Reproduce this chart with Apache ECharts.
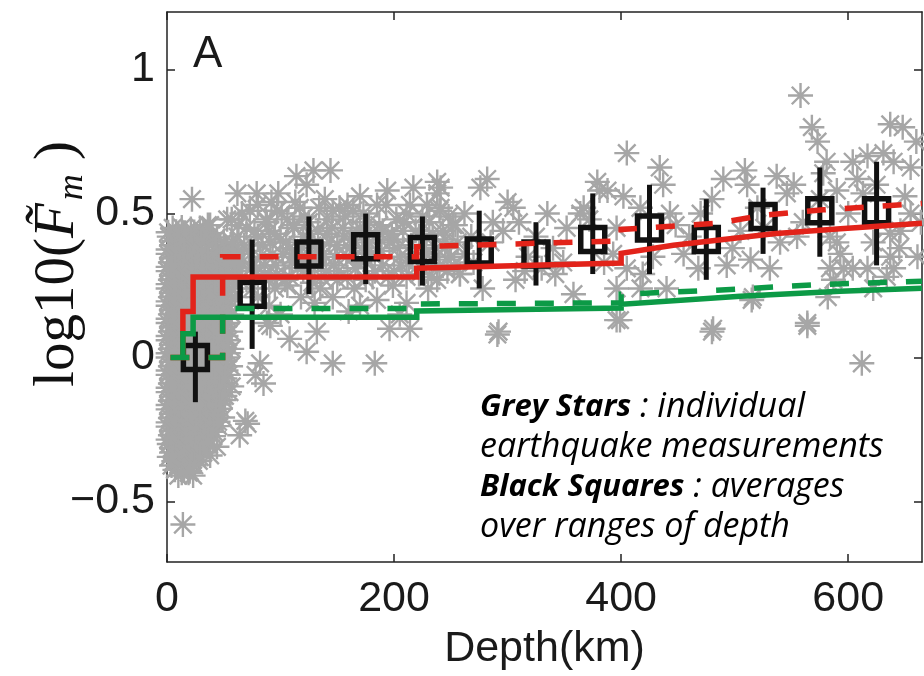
<!DOCTYPE html>
<html>
<head>
<meta charset="utf-8">
<script src="https://cdn.jsdelivr.net/npm/echarts@6/dist/echarts.min.js"></script>
<style>
  html, body { margin: 0; padding: 0; background: #ffffff; }
  #chart { width: 924px; height: 676px; }
</style>
</head>
<body>
<div id="chart"></div>
<script>
// Individual earthquake measurements: [depth (km), log10 value]
const shallowStars = [
  [5,0.45],[13,0.452],[21,0.446],[29,0.45],
  [2,0.42],[9,0.423],[17,0.418],[25,0.421],[34,0.42],[44,0.417],
  [4,0.39],[11,0.392],[19,0.388],[28,0.391],[37,0.39],[47,0.386],[57,0.39],
  [1,0.36],[7,0.362],[14,0.358],[22,0.361],[31,0.36],[41,0.357],[51,0.362],[63,0.36],
  [3,0.33],[10,0.332],[17,0.328],[26,0.331],[35,0.33],[45,0.327],[55,0.332],
  [1,0.30],[6,0.302],[13,0.298],[21,0.301],[30,0.30],[39,0.297],[49,0.302],[59,0.30],
  [3,0.27],[9,0.272],[16,0.268],[24,0.271],[33,0.27],[43,0.267],[53,0.272],[64,0.27],
  [1,0.24],[6,0.242],[12,0.238],[20,0.241],[28,0.24],[37,0.237],[47,0.242],[57,0.24],
  [3,0.21],[9,0.212],[15,0.208],[23,0.211],[32,0.21],[41,0.207],[51,0.212],[60,0.21],
  [1,0.18],[6,0.182],[12,0.178],[19,0.181],[27,0.18],[36,0.177],[45,0.182],[54,0.18],
  [3,0.15],[9,0.152],[15,0.148],[23,0.151],[31,0.15],[40,0.147],[49,0.152],[57,0.15],
  [1,0.12],[6,0.122],[12,0.118],[19,0.121],[27,0.12],[35,0.117],[44,0.122],[53,0.12],
  [3,0.09],[9,0.092],[15,0.088],[22,0.091],[30,0.09],[39,0.087],[48,0.092],[56,0.09],
  [1,0.06],[6,0.062],[12,0.058],[19,0.061],[27,0.06],[36,0.057],[45,0.062],[54,0.06],
  [3,0.03],[9,0.032],[16,0.028],[23,0.031],[31,0.03],[40,0.027],[49,0.032],[57,0.03],
  [1,0.0],[6,0.002],[12,-0.002],[19,0.001],[27,0.0],[36,-0.003],[45,0.002],[53,0.0],
  [3,-0.03],[9,-0.028],[16,-0.032],[23,-0.029],[31,-0.03],[40,-0.033],[48,-0.028],[56,-0.03],
  [1,-0.06],[6,-0.058],[12,-0.062],[20,-0.059],[28,-0.06],[37,-0.063],[46,-0.058],[54,-0.06],
  [3,-0.09],[9,-0.088],[16,-0.092],[24,-0.089],[32,-0.09],[41,-0.093],[50,-0.088],
  [1,-0.12],[6,-0.118],[13,-0.122],[21,-0.119],[29,-0.12],[38,-0.123],[47,-0.118],[55,-0.12],
  [3,-0.15],[9,-0.148],[16,-0.152],[24,-0.149],[33,-0.15],[42,-0.153],[50,-0.148],
  [1,-0.18],[6,-0.178],[13,-0.182],[21,-0.179],[30,-0.18],[39,-0.183],[47,-0.178],
  [3,-0.21],[9,-0.208],[16,-0.212],[25,-0.209],[34,-0.21],[43,-0.213],[49,-0.208],
  [1,-0.24],[6,-0.238],[13,-0.242],[21,-0.239],[30,-0.24],[39,-0.243],[45,-0.238],
  [3,-0.27],[9,-0.268],[16,-0.272],[24,-0.269],[33,-0.27],[41,-0.273],
  [2,-0.30],[7,-0.298],[13,-0.302],[21,-0.299],[29,-0.30],[37,-0.303],
  [4,-0.33],[10,-0.328],[17,-0.332],[25,-0.329],[32,-0.33],
  [6,-0.36],[13,-0.358],[20,-0.362],[28,-0.359],
  [7,-0.39],[15,-0.392],[23,-0.41],
  [10,-0.41],[19,-0.40],
  [14,-0.58],[44,-0.31],[38,-0.34],[69,-0.22],[64,-0.27],[57,-0.10],[71,-0.23],
  [22,0.55],[62,0.57],[38,0.46],[57,0.48],[53,0.48],[36,0.46]
];

const shallowStars2 = [
  [1,0.435],[8,0.437],[16,0.433],[24,0.436],[32,0.434],[40,0.432],
  [6,0.405],[13,0.407],[21,0.403],[30,0.406],[40,0.404],[50,0.402],
  [1,0.375],[7,0.377],[15,0.373],[24,0.376],[33,0.374],[43,0.372],[53,0.377],[60,0.375],
  [4,0.345],[11,0.347],[18,0.343],[27,0.346],[36,0.344],[46,0.342],[57,0.347],
  [1,0.315],[7,0.317],[14,0.313],[22,0.316],[31,0.314],[40,0.312],[50,0.317],[60,0.315],
  [4,0.285],[10,0.287],[17,0.283],[25,0.286],[35,0.284],[44,0.282],[54,0.287],
  [1,0.255],[6,0.257],[13,0.253],[20,0.256],[29,0.254],[38,0.252],[48,0.257],[60,0.255],
  [4,0.225],[10,0.227],[16,0.223],[24,0.226],[33,0.224],[42,0.222],[52,0.227],
  [1,0.195],[6,0.197],[12,0.193],[19,0.196],[28,0.194],[37,0.192],[46,0.197],[56,0.195],
  [4,0.165],[10,0.167],[16,0.163],[23,0.166],[32,0.164],[41,0.162],[50,0.167],
  [1,0.135],[6,0.137],[12,0.133],[20,0.136],[28,0.134],[36,0.132],[45,0.137],[54,0.135],
  [4,0.105],[10,0.107],[16,0.103],[24,0.106],[32,0.104],[40,0.102],[49,0.107],
  [1,0.075],[6,0.077],[12,0.073],[19,0.076],[26,0.074],[35,0.072],[44,0.077],[52,0.075],
  [4,0.045],[10,0.047],[16,0.043],[24,0.046],[32,0.044],[41,0.042],[50,0.047],
  [1,0.015],[6,0.017],[13,0.013],[20,0.016],[27,0.014],[36,0.012],[45,0.017],[54,0.015],
  [4,-0.015],[10,-0.013],[16,-0.017],[24,-0.014],[32,-0.016],[41,-0.018],[50,-0.013],
  [1,-0.045],[6,-0.043],[13,-0.047],[20,-0.044],[28,-0.046],[36,-0.048],[44,-0.043],[52,-0.045],
  [4,-0.075],[10,-0.073],[17,-0.077],[25,-0.074],[33,-0.076],[42,-0.078],[51,-0.073],
  [1,-0.105],[6,-0.103],[13,-0.107],[20,-0.104],[28,-0.106],[37,-0.108],[46,-0.103],
  [4,-0.135],[10,-0.133],[17,-0.137],[25,-0.134],[34,-0.136],[43,-0.138],[51,-0.133],
  [1,-0.165],[6,-0.163],[13,-0.167],[20,-0.164],[28,-0.166],[37,-0.168],[46,-0.163],
  [4,-0.195],[10,-0.193],[17,-0.197],[25,-0.194],[34,-0.196],[43,-0.198],
  [1,-0.225],[6,-0.223],[13,-0.227],[20,-0.224],[29,-0.226],[38,-0.228],[45,-0.223],
  [4,-0.255],[10,-0.253],[17,-0.257],[25,-0.254],[34,-0.256],[41,-0.258],
  [1,-0.285],[6,-0.283],[13,-0.287],[20,-0.284],[28,-0.286],[36,-0.288],
  [4,-0.315],[10,-0.313],[17,-0.317],[25,-0.314],[32,-0.316],
  [2,-0.345],[8,-0.343],[15,-0.347],[22,-0.344],[29,-0.346],
  [4,-0.375],[10,-0.373],[17,-0.377],[24,-0.374],
  [13,-0.40],[20,-0.395]
];

const midStars = [
  [79,0.57],[98,0.57],[170,0.56],[194,0.58],[217,0.59],[238,0.61],[114,0.63],[129,0.65],[144,0.65],[123,0.60],[276,0.59],
  [92,0.54],[113,0.54],[139,0.55],[159,0.53],[185,0.53],[229,0.53],[214,0.53],[238,0.57],
  [73,0.51],[97,0.51],[117,0.52],[146,0.51],[152,0.52],[164,0.51],[211,0.50],[240,0.51],
  [87,0.48],[106,0.48],[125,0.47],[141,0.48],[178,0.47],[202,0.48],[225,0.49],[252,0.46],
  [70,0.45],[90,0.44],[112,0.45],[133,0.44],[155,0.45],[170,0.45],[190,0.44],[208,0.44],[234,0.43],
  [62,0.42],[80,0.42],[100,0.41],[120,0.42],[141,0.43],[162,0.41],[185,0.42],[200,0.41],[222,0.42],[245,0.41],
  [68,0.39],[91,0.40],[108,0.38],[128,0.39],[150,0.39],[172,0.38],[196,0.40],[215,0.39],[237,0.38],
  [60,0.36],[82,0.35],[102,0.36],[118,0.35],[138,0.36],[158,0.35],[180,0.36],[205,0.35],[228,0.36],[250,0.35],
  [66,0.33],[86,0.32],[110,0.33],[130,0.33],[147,0.32],[168,0.33],[190,0.32],[213,0.33],[240,0.32],[247,0.34],
  [62,0.30],[78,0.30],[97,0.29],[120,0.30],[140,0.30],[159,0.28],[181,0.28],[200,0.30],[222,0.29],[247,0.30],
  [70,0.27],[90,0.27],[108,0.28],[128,0.26],[150,0.27],[175,0.27],[199,0.25],[211,0.28],[238,0.27],[258,0.29],
  [75,0.24],[95,0.24],[106,0.25],[135,0.24],[165,0.24],[230,0.24],
  [80,0.21],[118,0.21],[146,0.21],[185,0.20],[211,0.19],
  [90,0.18],[130,0.19],[170,0.18],
  [100,0.15],[160,0.16],[205,0.15],
  [88,0.12],[91,0.11],[132,0.09],[196,0.10],[214,0.10],
  [108,0.065],[123,0.02],[82,-0.02],[146,-0.02],[183,-0.02],[78,-0.06],[85,-0.09]
];

const midStars2 = [
  [58,0.40],[60,0.33],[63,0.46],[66,0.50],[72,0.37],[74,0.31],[77,0.44],[80,0.53],
  [84,0.39],[86,0.29],[88,0.47],[93,0.36],[95,0.43],[96,0.32],[101,0.50],[104,0.27],
  [105,0.40],[110,0.35],[111,0.46],[115,0.31],[119,0.38],[121,0.49],[126,0.43],[127,0.33],
  [132,0.37],[134,0.52],[136,0.28],[143,0.40],[145,0.45],[148,0.35],[151,0.30],[156,0.42],
  [157,0.49],[161,0.38],[166,0.31],[167,0.44],[173,0.50],[176,0.34],[178,0.40],[183,0.30],
  [187,0.46],[189,0.37],[193,0.53],[195,0.28],[198,0.43],[203,0.38],[206,0.32],[209,0.47],
  [216,0.36],[219,0.44],[224,0.31],[226,0.39],[231,0.47],[233,0.28],[236,0.35],[243,0.44],
  [245,0.38],[248,0.49],[253,0.32],[256,0.40],[262,0.36]
];

const deepStars = [
  [558,0.91],[568,0.80],[573,0.75],[637,0.81],[648,0.80],
  [405,0.71],[434,0.66],[437,0.60],[282,0.62],[300,0.54],
  [254,0.46],[241,0.59],[241,0.52],[287,0.47],[296,0.44],
  [258,0.29],[278,0.24],[307,0.27],[342,0.29],[349,0.33],[292,0.09],
  [358,0.22],[367,0.52],[379,0.61],[381,0.58],[364,0.50],[388,0.58],
  [402,0.56],[417,0.52],[396,0.45],[393,0.36],[405,0.31],[419,0.29],
  [417,0.24],[440,0.24],[443,0.50],[396,0.24],[399,0.13],[468,0.31],
  [480,0.55],[490,0.62],[493,0.32],[481,0.10],[509,0.65],[511,0.60],
  [516,0.21],[514,0.34],[531,0.31],[537,0.63],[540,0.40],[546,0.57],
  [552,0.60],[564,0.12],[581,0.68],[578,0.64],[584,0.42],[590,0.40],
  [593,0.36],[584,0.31],[596,0.31],[604,0.68],[617,0.70],[631,0.71],
  [608,0.62],[613,0.57],[640,0.68],[655,0.66],[622,0.40],[637,0.43],
  [646,0.44],[637,0.35],[640,0.31],[617,0.31],[622,0.24],[661,0.35],
  [664,0.47],[587,0.27],[604,0.31],[634,0.28],[291,0.08],[396,0.13],
  [480,0.09],[564,0.11],[612,-0.02],[515,0.20],[582,0.21],
  [268,0.42],[310,0.47],[325,0.42],[335,0.50],[352,0.45],[318,0.35],
  [330,0.31],[460,0.42],[455,0.36],[505,0.44],[520,0.52],[560,0.47],
  [575,0.55],[600,0.50],[650,0.56],[655,0.50],[660,0.75],
  [262,0.50],[270,0.33],[285,0.40],[305,0.52],[315,0.30],[340,0.38],
  [372,0.48],[385,0.33],[428,0.35],[448,0.46],[470,0.50],[498,0.38],
  [526,0.45],[555,0.42],[590,0.58],[625,0.60],[645,0.38]
];

// Depth-bin averages with spread
const binDepth = [25, 75, 125, 175, 225, 275, 325, 375, 425, 475, 525, 575, 625];
const binMean  = [0.0, 0.22, 0.36, 0.385, 0.375, 0.37, 0.36, 0.41, 0.45, 0.41, 0.49, 0.51, 0.51];
const binLow   = [-0.155, 0.03, 0.22, 0.255, 0.25, 0.24, 0.25, 0.29, 0.29, 0.27, 0.36, 0.35, 0.32];
const binHigh  = [0.09, 0.41, 0.49, 0.50, 0.49, 0.51, 0.47, 0.57, 0.60, 0.55, 0.59, 0.66, 0.68];

// Model curves
const redSolid = [[14,0],[14,0.16],[23,0.16],[23,0.28],[220,0.28],[220,0.31],[400,0.328],[400,0.362],[446,0.39],[534,0.43],[593,0.447],[665,0.466]];
const redDashed = [[3,0],[49,0],[49,0.35],[220,0.35],[220,0.385],[400,0.405],[400,0.445],[484,0.466],[525,0.494],[578,0.513],[665,0.535]];
const greenSolid = [[14,0],[14,0.083],[23,0.083],[23,0.14],[220,0.14],[220,0.162],[400,0.172],[400,0.185],[505,0.213],[593,0.23],[665,0.241]];
const greenDashed = [[3,0],[49,0],[49,0.17],[220,0.17],[220,0.186],[400,0.19],[400,0.22],[484,0.234],[578,0.254],[665,0.265]];

// Axis ticks
const xTicks = [0, 200, 400, 600];
const yTicks = [-0.5, 0, 0.5, 1];

const RED = '#e2231a';
const GREEN = '#0c9a46';
const STAR = '#a6a6a6';
const INK = '#111111';
const SANS = '"Liberation Sans", Arial, sans-serif';
const SERIF = '"Liberation Serif", "DejaVu Serif", serif';

const starPath = 'path://M10,0L10,20M0,10L20,10M3,3L17,17M3,17L17,3';

const chart = echarts.init(document.getElementById('chart'), null, { renderer: 'canvas' });

const bars = binDepth.map((d, i) => [d, binLow[i], binHigh[i]]);
const means = binDepth.map((d, i) => [d, binMean[i]]);
const stars = shallowStars.concat(shallowStars2, midStars, midStars2, deepStars);

function lineSeries(data, color, dashed, z) {
  return {
    type: 'line', data: data, symbol: 'none', z: z, silent: true,
    lineStyle: { color: color, width: 5.5, opacity: 1, type: dashed ? [19, 19] : 'solid', cap: 'butt', join: 'miter' }
  };
}

// y-axis title pieces: main text, italic F with tilde, lowered subscript m, closing bracket
const titleFonts = {
  main: '57px ' + SERIF,
  ital: 'italic 57px ' + SERIF,
  sub: 'italic 36px ' + SERIF
};
const titleParts = [
  { text: 'log10(', font: titleFonts.main, dy: 0 },
  { text: 'F\u0303', font: titleFonts.ital, dy: 0 },
  { text: 'm', font: titleFonts.sub, dy: 15, gap: 3 },
  { text: ' )', font: titleFonts.main, dy: 0 }
];
const measureCtx = document.createElement('canvas').getContext('2d');
let titleWidth = 0;
titleParts.forEach(p => {
  measureCtx.font = p.font;
  p.w = measureCtx.measureText(p.text).width + (p.gap || 0);
  titleWidth += p.w;
});
let cursor = -titleWidth / 2;
const titleChildren = titleParts.map(p => {
  const el = {
    type: 'text', x: cursor + (p.gap || 0), y: p.dy, silent: true,
    style: { text: p.text, font: p.font, fill: '#111', align: 'left', verticalAlign: 'middle' }
  };
  cursor += p.w;
  return el;
});

const axisLineStyle = { show: true, onZero: false, lineStyle: { color: '#222', width: 1.5 } };
const tickStyle = { color: '#222', width: 1.5 };

chart.setOption({
  animation: false,
  backgroundColor: '#ffffff',
  grid: { left: 167, right: 2, top: 12, bottom: 107, containLabel: false },
  xAxis: [
    {
      type: 'value', min: 0, max: 665, interval: 200, position: 'bottom',
      axisLine: axisLineStyle,
      axisTick: { show: true, inside: true, length: 8, lineStyle: tickStyle, customValues: xTicks },
      axisLabel: { show: true, fontSize: 43, fontFamily: SANS, color: '#1a1a1a', margin: 16, customValues: xTicks },
      splitLine: { show: false },
      name: 'Depth(km)', nameLocation: 'middle', nameGap: 66,
      nameTextStyle: { fontSize: 43, fontFamily: SANS, color: '#1a1a1a' }
    },
    {
      type: 'value', min: 0, max: 665, interval: 200, position: 'top',
      axisLine: axisLineStyle,
      axisTick: { show: true, inside: true, length: 8, lineStyle: tickStyle, customValues: xTicks },
      axisLabel: { show: false }, splitLine: { show: false }
    }
  ],
  yAxis: [
    {
      type: 'value', min: -0.71, max: 1.2, position: 'left',
      axisLine: axisLineStyle,
      axisTick: { show: true, inside: true, length: 8, lineStyle: tickStyle, customValues: yTicks },
      axisLabel: {
        show: true, fontSize: 43, fontFamily: SANS, color: '#1a1a1a', margin: 12, customValues: yTicks,
        formatter: v => (v < 0 ? '\u2212' + Math.abs(v) : String(v))
      },
      splitLine: { show: false }
    },
    {
      type: 'value', min: -0.71, max: 1.2, position: 'right',
      axisLine: axisLineStyle,
      axisTick: { show: true, inside: true, length: 8, lineStyle: tickStyle, customValues: yTicks },
      axisLabel: { show: false }, splitLine: { show: false }
    }
  ],
  graphic: [
    {
      // y-axis title, rotated to read bottom-to-top
      type: 'group', x: 58, y: 264, rotation: Math.PI / 2, silent: true,
      children: titleChildren
    },
    {
      type: 'text', left: 193, top: 33, silent: true,
      style: { text: 'A', font: '44px "Liberation Sans", Arial, sans-serif', fill: '#1a1a1a' }
    },
    {
      type: 'text', left: 480, top: 390, silent: true,
      style: {
        text: '{b|Grey Stars}{i| : individual}\n{i|earthquake measurements}\n{b|Black Squares}{i| : averages}\n{i|over ranges of depth}',
        rich: {
          b: { fontFamily: '"Open Sans", sans-serif', fontStyle: 'italic', fontWeight: 'bold', fontSize: 31, lineHeight: 40, fill: '#000' },
          i: { fontFamily: '"Open Sans", sans-serif', fontStyle: 'italic', fontSize: 34, lineHeight: 40, fill: '#000' }
        }
      }
    }
  ],
  series: [
    {
      type: 'scatter', data: stars, symbol: starPath, symbolSize: 25, z: 1, silent: true,
      itemStyle: { color: 'rgba(0,0,0,0)', borderColor: STAR, borderWidth: 2.4, opacity: 1 }
    },
    {
      type: 'custom', data: bars, z: 3, silent: true,
      renderItem: function (params, api) {
        const top = api.coord([api.value(0), api.value(2)]);
        const bot = api.coord([api.value(0), api.value(1)]);
        return {
          type: 'line',
          shape: { x1: top[0], y1: top[1], x2: bot[0], y2: bot[1] },
          style: { stroke: INK, lineWidth: 5 }
        };
      }
    },
    {
      type: 'scatter', data: means, symbol: 'rect', symbolSize: 24, z: 4, silent: true,
      itemStyle: { color: 'rgba(0,0,0,0)', borderColor: INK, borderWidth: 5.5, opacity: 1 }
    },
    lineSeries(redSolid, RED, false, 5),
    lineSeries(redDashed, RED, true, 6),
    lineSeries(greenSolid, GREEN, false, 7),
    lineSeries(greenDashed, GREEN, true, 8)
  ]
});
</script>
</body>
</html>
